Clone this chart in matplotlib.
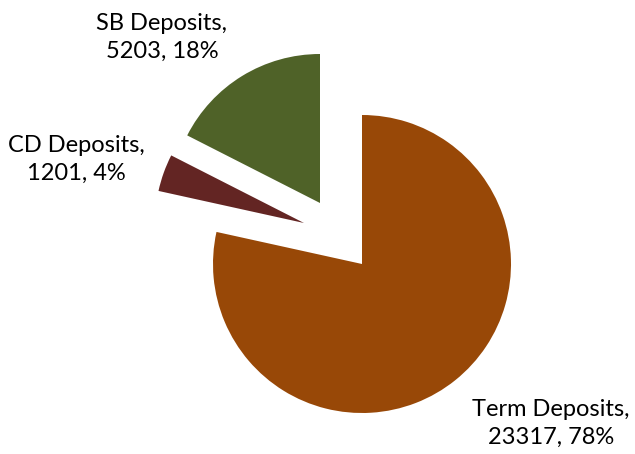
import matplotlib
matplotlib.use("Agg")
import matplotlib.pyplot as plt

categories = ["Term Deposits", "CD Deposits", "SB Deposits"]
values = [23317, 1201, 5203]
percents = ["78%", "4%", "18%"]
colors = ["#984807", "#632523", "#4F6228"]

W, H = 635, 454
R = 149.0           # radius in px
CX, CY = 362.0, 264.0   # centre of the main slice in px (from top)

fig = plt.figure(figsize=(W / 100, H / 100), dpi=100)
ax = fig.add_axes([0, 0, 1, 1])
ax.set_aspect("equal")
ax.axis("off")

wedges, _ = ax.pie(values, colors=colors, startangle=90, counterclock=False,
                   radius=1.0, wedgeprops=dict(linewidth=0))
ax.set_xlim(-CX / R, (W - CX) / R)
ax.set_ylim(-(H - CY) / R, CY / R)

# slice displacement (px) for exploded slices
offsets_px = [(0, 0), (-58, 41), (-42, 61)]
for w, (dx, dy) in zip(wedges, offsets_px):
    w.set_center((dx / R, dy / R))

label_px = [(551, 423), (76, 159), (162, 37)]
for cat, v, p, (lx, ly) in zip(categories, values, percents, label_px):
    ax.text((lx - CX) / R, (CY - ly) / R, f"{cat},\n{v}, {p}",
            ha="center", va="center", fontsize=17, family="Lato",
            color="black", linespacing=1.4)

fig.savefig("out.png", dpi=100)
